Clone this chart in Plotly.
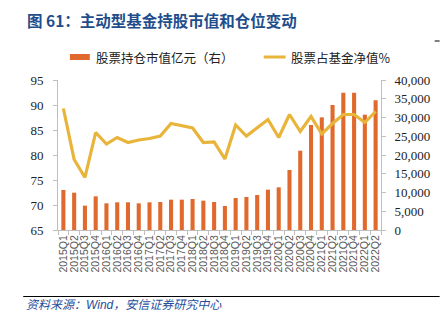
import plotly.graph_objects as go

categories = [f"{y}Q{q}" for y in range(2015, 2023) for q in range(1, 5)][:30]

holding_value = [10667, 9956, 6489, 8978, 7111, 7378, 7378, 7111, 7378, 7467,
                 8089, 8089, 8267, 7822, 7467, 6400, 8533, 8800, 9333, 10756,
                 11378, 16000, 21156, 28000, 30044, 33333, 36622, 36622, 30756, 34578]

equity_ratio = [89.3, 79.1, 75.5, 84.5, 82.2, 83.5, 82.5, 83.0, 83.3, 83.8,
                86.3, 85.9, 85.4, 82.5, 82.6, 79.2, 86.0, 83.8, 85.5, 87.1,
                83.5, 88.1, 84.7, 87.7, 84.2, 86.3, 88.1, 88.1, 86.5, 88.7]

left_ticks = [65, 70, 75, 80, 85, 90, 95]
right_ticks = list(range(0, 40001, 5000))
right_tick_text = [f"{v:,}" for v in right_ticks]

BAR_COLOR = "#E06A2E"
LINE_COLOR = "#E9B43A"
AXIS_COLOR = "#BFBFBF"
CJK = "Noto Sans CJK SC"

fig = go.Figure()
fig.add_trace(go.Bar(x=categories, y=holding_value, marker_color=BAR_COLOR,
                     marker_line_width=0, name="股票持仓市值亿元（右）", yaxis="y"))
fig.add_trace(go.Scatter(x=categories, y=equity_ratio, mode="lines",
                         line=dict(color=LINE_COLOR, width=3.2),
                         name="股票占基金净值%", yaxis="y2"))

W, H = 442, 322
ml, mr, mt, mb = 58, 59, 80, 92
pw, ph = W - ml - mr, H - mt - mb

def px(x):
    return (x - ml) / pw

def py(y):
    return (H - mb - y) / ph

fig.update_layout(
    width=W, height=H,
    margin=dict(l=ml, r=mr, t=mt, b=mb, pad=0),
    paper_bgcolor="white", plot_bgcolor="white",
    showlegend=False,
    bargap=0.62,
    xaxis=dict(type="category", showline=True, linecolor=AXIS_COLOR, linewidth=1,
               tickmode="array", tickvals=categories, ticktext=categories,
               ticks="outside", ticklen=4, tickcolor=AXIS_COLOR, tickson="boundaries",
               tickangle=-90, tickfont=dict(family="Liberation Sans", size=10.5, color="#595959"),
               showgrid=False, zeroline=False),
    yaxis=dict(side="right", range=[0, 40000], tickvals=right_ticks, ticktext=right_tick_text,
               showline=True, linecolor=AXIS_COLOR, ticks="outside", ticklen=4,
               tickcolor=AXIS_COLOR, showgrid=False, zeroline=False, ticklabelstandoff=6,
               tickfont=dict(family="Liberation Serif", size=13, color="#222222")),
    yaxis2=dict(side="left", overlaying="y", range=[65, 95], tickvals=left_ticks,
                showline=True, linecolor=AXIS_COLOR, ticks="outside", ticklen=4,
                tickcolor=AXIS_COLOR, showgrid=False, zeroline=False, ticklabelstandoff=7,
                tickfont=dict(family="Liberation Serif", size=13, color="#222222")),
    font=dict(family=CJK),
)

shapes = [
    dict(type="rect", xref="paper", yref="paper", x0=px(70), x1=px(90), y0=py(60), y1=py(54),
         fillcolor=BAR_COLOR, line=dict(width=0)),
    dict(type="line", xref="paper", yref="paper", x0=px(265), x1=px(287), y0=py(57), y1=py(57),
         line=dict(color=LINE_COLOR, width=3)),
    dict(type="line", xref="paper", yref="paper", x0=px(23), x1=px(442), y0=py(296.5), y1=py(296.5),
         line=dict(color="#000000", width=1)),
    dict(type="line", xref="paper", yref="paper", x0=px(437), x1=px(442), y0=py(41), y1=py(41),
         line=dict(color="#000000", width=1)),
]
fig.update_layout(shapes=shapes)

annotations = [
    dict(text="<b>图 61：主动型基金持股市值和仓位变动</b>", xref="paper", yref="paper",
         x=px(25), y=py(20), xanchor="left", yanchor="middle", showarrow=False,
         font=dict(family=CJK, size=15.5, color="#1F4E8C")),
    dict(text="股票持仓市值亿元（右）", xref="paper", yref="paper",
         x=px(94), y=py(57), xanchor="left", yanchor="middle", showarrow=False,
         font=dict(family=CJK, size=12.5, color="#222222")),
    dict(text="股票占基金净值%", xref="paper", yref="paper",
         x=px(290), y=py(57), xanchor="left", yanchor="middle", showarrow=False,
         font=dict(family=CJK, size=12.5, color="#222222")),
    dict(text="<i>资料来源：Wind，安信证券研究中心</i>", xref="paper", yref="paper",
         x=px(24), y=py(305), xanchor="left", yanchor="middle", showarrow=False,
         font=dict(family="Liberation Sans, " + CJK, size=12, color="#1F4E9C")),
]
fig.update_layout(annotations=annotations)

fig.write_html("out.html")
